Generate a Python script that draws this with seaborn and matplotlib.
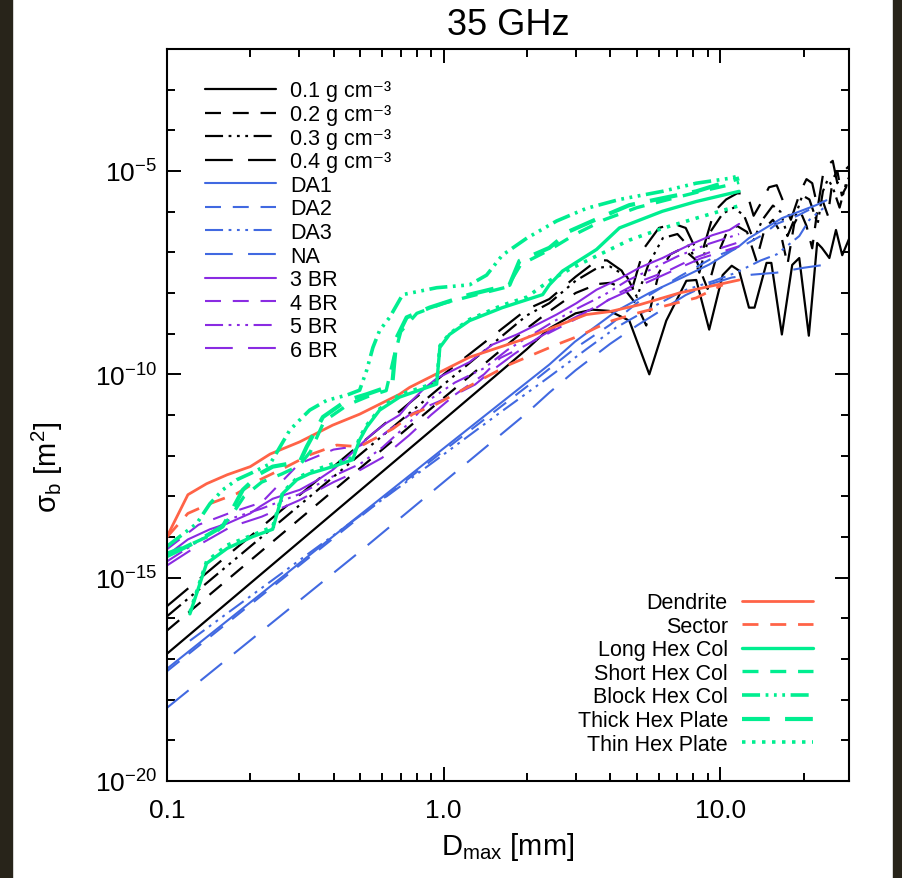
import numpy as np
import pandas as pd
import matplotlib
matplotlib.use("Agg")
import matplotlib.pyplot as plt
import seaborn as sns
from matplotlib.ticker import FixedLocator, FixedFormatter, NullFormatter
from matplotlib.patches import Rectangle

# ---------------- data (D in mm, log10 of sigma_b in m^2) ----------------
# solid spheres of different density
D_rho01 = [0.1, 1.0, 2.0, 2.41, 3.0, 3.45, 3.97, 4.69, 5.54, 6.38, 7.54, 8.19, 9.12, 10.2, 11.0, 11.7,
           12.7, 13.3, 14.7, 15.3, 16.7, 18.2, 19.3, 20.9, 22.4, 23.3, 24.8, 26.2, 27.6, 29.5]
S_rho01 = [-16.87, -11.12, -9.38, -8.87, -8.5, -8.41, -8.44, -8.68, -10.0, -8.68, -7.70, -7.68, -8.90, -7.56,
           -7.33, -7.45, -8.36, -8.36, -7.26, -7.26, -9.02, -7.31, -7.14, -9.05, -6.77, -6.89, -7.14, -6.45,
           -7.07, -6.60]
D_rho02 = [0.1, 1.0, 2.0, 2.41, 3.0, 3.6, 4.0, 4.5, 5.0, 5.4, 6.0, 6.6, 7.3, 8.2, 9.0, 9.6, 10.5, 11.5, 12.5,
           13.5, 14.5, 15.5, 16.5, 17.5, 18.5, 19.5, 20.5, 21.5, 22.5, 23.5, 24.5, 25.5, 26.5, 27.5, 28.5, 29.5]
S_rho02 = [-16.3, -10.58, -8.87, -8.45, -8.0, -7.78, -7.75, -7.9, -8.3, -8.8, -7.5, -7.05, -6.9, -7.2, -7.9,
           -7.2, -6.55, -6.35, -6.5, -7.2, -6.4, -6.2, -6.5, -7.3, -6.3, -6.0, -6.35, -6.9, -5.9, -5.75, -6.1,
           -5.2, -5.0, -5.6, -5.4, -4.95]
D_rho03 = [0.1, 1.0, 2.0, 2.41, 3.0, 3.6, 4.0, 4.6, 5.0, 5.5, 6.2, 7.0, 7.8, 8.4, 9.2, 10.2, 11.2, 12.2, 13.2,
           14.2, 15.5, 16.5, 17.5, 18.5, 19.8, 21.0, 22.5, 23.5, 24.5, 25.5, 27.0, 28.5, 29.5]
S_rho03 = [-15.95, -10.25, -8.55, -8.25, -7.7, -7.38, -7.35, -7.6, -8.1, -7.3, -6.65, -6.55, -6.9, -7.5, -6.5,
           -6.05, -5.9, -6.1, -6.7, -6.2, -5.85, -6.0, -6.6, -6.2, -5.6, -5.7, -6.3, -5.5, -5.2, -5.4, -5.9,
           -5.3, -5.1]
D_rho04 = [0.1, 1.0, 2.0, 2.41, 3.0, 3.6, 3.9, 4.4, 4.8, 5.3, 6.0, 6.8, 7.5, 8.0, 8.6, 9.5, 10.5, 11.5, 12.5,
           13.2, 14.0, 15.0, 16.0, 17.0, 18.0, 19.5, 20.5, 21.5, 22.5, 23.5, 24.5, 25.5, 26.5, 28.0, 29.5]
S_rho04 = [-15.7, -10.0, -8.4, -8.15, -7.6, -7.19, -7.2, -7.45, -7.9, -6.9, -6.4, -6.3, -6.4, -6.8, -7.0, -6.0,
           -5.7, -5.55, -5.55, -6.1, -5.8, -5.4, -5.35, -5.8, -6.2, -5.5, -5.2, -5.3, -5.9, -5.1, -4.85, -4.75,
           -5.3, -5.0, -4.85]

# aggregates
D_DA1 = [0.1, 0.5, 1.0, 2.41, 2.98, 4.22, 5.54, 7.29, 9.12, 11.7, 12.7, 16.7, 22.2, 24.2]
S_DA1 = [-17.24, -13.45, -11.82, -9.76, -9.2, -8.44, -8.0, -7.62, -7.3, -6.85, -6.65, -6.16, -5.84, -5.72]
D_DA2 = [0.1, 0.5, 1.0, 2.0, 3.0, 4.0, 5.1, 7.1, 9.6, 12.0, 14.0, 16.0, 19.0, 21.0, 23.0]
S_DA2 = [-17.3, -13.5, -11.88, -10.3, -9.35, -8.78, -8.2, -7.6, -7.1, -6.85, -6.6, -6.3, -6.1, -5.95, -5.85]
D_DA3 = [0.121, 0.3, 0.6, 1.0, 1.6, 2.4, 3.3, 4.2, 5.5, 7.3, 9.5, 11.4, 14.0, 16.0, 19.3, 21.0, 24.2]
S_DA3 = [-16.55, -14.58, -13.08, -11.97, -10.94, -10.07, -9.37, -8.85, -8.4, -7.95, -7.7, -7.5, -7.2, -7.05,
         -6.6, -6.2, -5.85]
D_NA = [0.1, 0.5, 1.0, 2.0, 2.41, 3.0, 4.0, 5.0, 6.2, 7.5, 9.0, 11.0, 13.0, 16.0, 20.0, 24.2]
S_NA = [-18.2, -14.35, -12.65, -10.95, -10.45, -9.9, -9.25, -8.8, -8.4, -8.05, -7.8, -7.62, -7.55, -7.5,
        -7.38, -7.3]

# bullet rosettes
D_BR3 = [0.1, 0.119, 0.143, 0.165, 0.2, 0.217, 0.241, 0.302, 0.35, 0.397, 0.447, 0.497, 0.555, 0.62, 0.693,
         0.754, 0.85, 0.944, 1.24, 1.5, 1.84, 2.17, 2.56, 3.02, 3.57, 4.32, 5.1, 6.18, 7.73, 9.35, 10.8, 11.7]
S_BR3 = [-14.45, -14.06, -13.81, -13.67, -13.42, -13.25, -13.06, -12.84, -12.6, -12.35, -12.05, -11.75,
         -11.45, -11.2, -11.0, -10.7, -10.35, -10.1, -9.7, -9.27, -9.02, -8.78, -8.53, -8.25, -7.92, -7.65,
         -7.38, -7.14, -6.82, -6.58, -6.45, -6.30]
D_BR4 = [0.1, 0.13, 0.17, 0.22, 0.3, 0.4, 0.5, 0.6, 0.75, 0.9, 1.1, 1.4, 1.6, 1.9, 2.3, 2.8, 3.5, 4.3, 5.2,
         6.5, 8.0, 10.0, 11.7]
S_BR4 = [-14.3, -13.7, -13.4, -13.15, -12.2, -11.85, -11.75, -11.5, -11.0, -10.75, -10.5, -10.0, -9.6, -9.35,
         -9.05, -8.75, -8.4, -8.0, -7.7, -7.45, -7.15, -6.9, -6.75]
D_BR5 = [0.1, 0.13, 0.17, 0.22, 0.3, 0.4, 0.5, 0.6, 0.75, 0.9, 1.1, 1.4, 1.7, 2.0, 2.5, 3.0, 3.8, 4.6, 5.5,
         7.0, 9.0, 11.7]
S_BR5 = [-14.6, -14.1, -13.55, -13.3, -12.95, -12.5, -12.2, -11.8, -11.2, -10.6, -10.2, -9.85, -9.4, -9.1,
         -8.7, -8.4, -8.05, -7.7, -7.45, -7.1, -6.8, -6.55]
D_BR6 = [0.1, 0.13, 0.17, 0.22, 0.3, 0.4, 0.5, 0.6, 0.75, 0.9, 1.1, 1.3, 1.5, 1.8, 2.2, 2.7, 3.3, 4.0, 5.0,
         6.5, 8.5, 11.7]
S_BR6 = [-14.7, -14.2, -13.75, -13.5, -13.1, -12.65, -12.35, -12.05, -11.5, -11.0, -10.5, -10.25, -9.9, -9.5,
         -9.1, -8.75, -8.45, -8.15, -7.85, -7.5, -7.15, -6.85]

# planar crystals
D_dend = [0.1, 0.119, 0.139, 0.165, 0.2, 0.236, 0.302, 0.397, 0.497, 0.693, 0.754, 1.24, 1.88, 2.48, 3.28,
          3.97, 5.1, 7.11, 11.7]
S_dend = [-13.99, -12.96, -12.69, -12.47, -12.27, -11.96, -11.66, -11.25, -10.98, -10.49, -10.32, -9.58,
          -9.17, -8.85, -8.53, -8.46, -8.29, -8.0, -7.68]
D_sect = [0.1, 0.119, 0.143, 0.179, 0.217, 0.271, 0.328, 0.411, 0.497, 0.655, 0.773, 0.944, 1.35, 1.73,
          2.56, 3.18, 3.57, 4.07, 5.10, 6.55, 8.19, 10.2]
S_sect = [-14.0, -13.42, -13.18, -12.93, -12.59, -12.27, -11.98, -11.74, -11.78, -11.34, -10.98, -10.73,
          -10.15, -9.76, -9.27, -9.02, -8.85, -8.68, -8.48, -8.29, -8.12, -7.80]

# columns and plates
D_lcol = [0.121, 0.139, 0.165, 0.204, 0.241, 0.262, 0.295, 0.328, 0.397, 0.469, 0.497, 0.527, 0.587,
          0.693, 0.944, 0.969, 1.05, 1.24, 1.63, 2.28, 2.41, 2.69, 3.57, 4.32, 6.18, 8.19, 11.7]
S_lcol = [-15.89, -14.65, -14.28, -13.99, -13.81, -12.93, -12.59, -12.44, -12.27, -12.10, -11.61, -11.30,
          -10.88, -10.56, -10.24, -9.34, -9.02, -8.68, -8.36, -8.04, -7.80, -7.46, -6.93, -6.40, -5.99,
          -5.75, -5.50]
D_scol = [0.1, 0.12, 0.15, 0.17, 0.19, 0.22, 0.26, 0.3, 0.33, 0.37, 0.45, 0.53, 0.62, 0.66, 0.7, 0.8, 1.0,
          1.3, 1.7, 1.9, 2.4, 3.0, 3.8, 5.0, 6.5, 8.5, 10.5, 11.7]
S_scol = [-14.4, -14.2, -13.9, -13.5, -13.0, -12.65, -12.45, -12.25, -11.9, -11.15, -10.75, -10.55, -10.4,
          -9.6, -8.95, -8.5, -8.25, -8.05, -7.85, -7.3, -6.95, -6.55, -6.2, -5.9, -5.7, -5.5, -5.36, -5.28]
D_bcol = [0.1, 0.128, 0.143, 0.159, 0.179, 0.2, 0.236, 0.278, 0.302, 0.328, 0.378, 0.447, 0.497, 0.527,
          0.555, 0.587, 0.638, 0.711, 0.944, 1.24, 1.43, 1.63, 2.0, 2.56, 3.28, 4.32, 6.18, 8.19, 10.8, 11.7]
S_bcol = [-14.23, -13.67, -13.18, -12.84, -12.59, -12.44, -12.2, -11.37, -11.12, -10.88, -10.64, -10.51,
          -10.39, -9.9, -9.34, -8.92, -8.6, -8.04, -7.87, -7.80, -7.56, -7.07, -6.65, -6.23, -5.92, -5.70,
          -5.50, -5.30, -5.18, -5.12]
D_tkpl = [0.1, 0.124, 0.159, 0.172, 0.188, 0.217, 0.241, 0.302, 0.320, 0.366, 0.447, 0.527, 0.622, 0.654,
          0.676, 0.735, 0.889, 1.24, 1.73, 1.88, 2.41, 2.85, 3.75, 4.69, 6.18, 8.19, 10.2, 11.7]
S_tkpl = [-14.47, -14.16, -13.74, -13.33, -12.84, -12.44, -12.27, -12.15, -11.78, -11.05, -10.64, -10.49,
          -10.32, -10.15, -9.1, -8.6, -8.36, -8.04, -7.80, -7.21, -6.89, -6.48, -6.12, -5.84, -5.67, -5.50,
          -5.30, -5.18]
D_tnpl = [0.121, 0.139, 0.165, 0.204, 0.241, 0.262, 0.295, 0.328, 0.397, 0.469, 0.497, 0.527, 0.587,
          0.693, 0.944, 0.969, 1.05, 1.24, 1.63, 2.0, 2.41, 2.92, 3.57, 4.69, 6.18, 8.19, 10.2, 11.9]
S_tnpl = [-15.85, -14.6, -14.2, -13.95, -13.75, -12.9, -12.55, -12.4, -12.2, -12.05, -11.55, -11.25,
          -10.85, -10.5, -10.2, -9.3, -9.0, -8.65, -8.3, -8.1, -7.70, -7.38, -7.09, -6.70, -6.41, -6.16,
          -5.97, -5.84]

labels_left = ["0.1 g cm\u207b\u00b3", "0.2 g cm\u207b\u00b3", "0.3 g cm\u207b\u00b3", "0.4 g cm\u207b\u00b3",
               "DA1", "DA2", "DA3", "NA", "3 BR", "4 BR", "5 BR", "6 BR"]
labels_right = ["Dendrite", "Sector", "Long Hex Col", "Short Hex Col", "Block Hex Col",
                "Thick Hex Plate", "Thin Hex Plate"]
x_tick_vals = [0.1, 1.0, 10.0]
x_tick_labels = ["0.1", "1.0", "10.0"]
y_tick_exps = [-20, -15, -10, -5]

# ---------------- styling ----------------
sns.set_theme(style="ticks")
plt.rcParams["font.family"] = ["Liberation Sans", "DejaVu Sans"]
plt.rcParams["mathtext.fontset"] = "custom"
plt.rcParams["mathtext.rm"] = "Liberation Sans"
plt.rcParams["mathtext.it"] = "Liberation Sans:italic"
plt.rcParams["mathtext.bf"] = "Liberation Sans:bold"
plt.rcParams["mathtext.default"] = "regular"
plt.rcParams["lines.scale_dashes"] = False
for k in ["text.color", "axes.labelcolor", "xtick.color", "ytick.color", "axes.edgecolor"]:
    plt.rcParams[k] = "black"

BLACK = "#000000"
BLUE = "#4169E1"
PURPLE = "#8A2BE2"
RED = "#FF6347"
GREEN = "#00EE90"

SOLID = "-"
DASH = (0, (11.5, 8.5))
DDDD = (0, (13, 4, 2, 4, 2, 4, 2, 4))
LONG = (0, (20, 11))
DOT = (0, (2.5, 4.7))

series = [
    # name, D, S, color, style, lw
    (labels_left[0], D_rho01, S_rho01, BLACK, SOLID, 1.6),
    (labels_left[1], D_rho02, S_rho02, BLACK, DASH, 1.6),
    (labels_left[2], D_rho03, S_rho03, BLACK, DDDD, 1.6),
    (labels_left[3], D_rho04, S_rho04, BLACK, LONG, 1.6),
    (labels_left[4], D_DA1, S_DA1, BLUE, SOLID, 1.5),
    (labels_left[5], D_DA2, S_DA2, BLUE, DASH, 1.5),
    (labels_left[6], D_DA3, S_DA3, BLUE, DDDD, 1.5),
    (labels_left[7], D_NA, S_NA, BLUE, LONG, 1.5),
    (labels_left[8], D_BR3, S_BR3, PURPLE, SOLID, 1.5),
    (labels_left[9], D_BR4, S_BR4, PURPLE, DASH, 1.5),
    (labels_left[10], D_BR5, S_BR5, PURPLE, DDDD, 1.5),
    (labels_left[11], D_BR6, S_BR6, PURPLE, LONG, 1.5),
    (labels_right[0], D_dend, S_dend, RED, SOLID, 2.0),
    (labels_right[1], D_sect, S_sect, RED, DASH, 2.0),
    (labels_right[2], D_lcol, S_lcol, GREEN, SOLID, 2.4),
    (labels_right[3], D_scol, S_scol, GREEN, DASH, 2.4),
    (labels_right[4], D_bcol, S_bcol, GREEN, DDDD, 2.6),
    (labels_right[5], D_tkpl, S_tkpl, GREEN, LONG, 3.0),
    (labels_right[6], D_tnpl, S_tnpl, GREEN, DOT, 2.6),
]

frames = []
for name, d, s, *_ in series:
    frames.append(pd.DataFrame({"D": d, "sigma": 10.0 ** np.array(s), "series": name}))
df = pd.concat(frames, ignore_index=True)

fig = plt.figure(figsize=(9.03, 8.79), dpi=100)
fig.patch.set_facecolor("white")
fig.patches.append(Rectangle((0, 0), 12 / 903, 1, transform=fig.transFigure, color="#28241a", zorder=-5))
fig.patches.append(Rectangle((893 / 903, 0), 10 / 903, 1, transform=fig.transFigure, color="#28241a", zorder=-5))

ax = fig.add_axes([167 / 903, 1 - 782 / 879, (849 - 167) / 903, (782 - 50) / 879])
ax.set_xscale("log")
ax.set_yscale("log")

handles = {}
for name, d, s, color, ls, lw in series:
    sub = df[df["series"] == name]
    sns.lineplot(data=sub, x="D", y="sigma", ax=ax, color=color, linewidth=lw, linestyle=ls,
                 sort=False, errorbar=None, legend=False, label=name)
    handles[name] = ax.lines[-1]

ax.set_xlim(0.1, 29.2)
ax.set_ylim(1e-20, 1e-2)

# ticks
ax.xaxis.set_major_locator(FixedLocator(x_tick_vals))
ax.xaxis.set_major_formatter(FixedFormatter(x_tick_labels))
xminor = [m * 10.0 ** e for e in (-1, 0, 1) for m in range(2, 10) if m * 10.0 ** e < 29.2]
ax.xaxis.set_minor_locator(FixedLocator(xminor))
ax.xaxis.set_minor_formatter(NullFormatter())
ax.yaxis.set_major_locator(FixedLocator([10.0 ** e for e in y_tick_exps]))
ax.yaxis.set_major_formatter(FixedFormatter(["10$^{%d}$" % e for e in y_tick_exps]))
ax.yaxis.set_minor_locator(FixedLocator([10.0 ** e for e in range(-20, -1) if e not in y_tick_exps]))
ax.yaxis.set_minor_formatter(NullFormatter())
ax.tick_params(which="both", direction="in", top=True, right=True, width=1.4, colors="black")
ax.tick_params(which="major", length=10)
ax.tick_params(which="minor", length=5.5)
ax.tick_params(axis="x", which="major", labelsize=19, pad=12)
ax.tick_params(axis="y", which="major", labelsize=19, pad=7)
for sp in ax.spines.values():
    sp.set_linewidth(1.5)
    sp.set_color("black")
ax.set_facecolor("white")
ax.grid(False)

ax.set_title("35 GHz", fontsize=26, pad=11)
ax.set_xlabel("D$_{max}$ [mm]", fontsize=21, labelpad=6)
ax.set_ylabel("σ$_{b}$ [m$^{2}$]", fontsize=21)
ax.yaxis.set_label_coords(-0.15, 0.43)

leg_kw = dict(frameon=False, fontsize=15.5, handlelength=3.3, handletextpad=0.65, labelspacing=0.12,
              borderpad=0.0, borderaxespad=0.0)
leg1 = ax.legend([handles[n] for n in labels_left], labels_left, loc="upper left",
                 bbox_to_anchor=(0.0557, 0.957), **leg_kw)
ax.add_artist(leg1)
leg2 = ax.legend([handles[n] for n in labels_right], labels_right, loc="lower right",
                 bbox_to_anchor=(0.947, 0.036), markerfirst=False, **leg_kw)

fig.savefig("out.png", dpi=100, facecolor=fig.get_facecolor())
